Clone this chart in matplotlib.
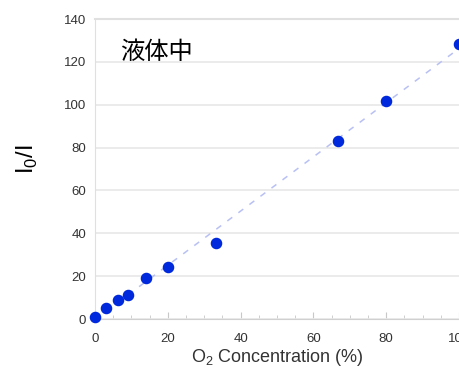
import numpy as np
import matplotlib
matplotlib.use("Agg")
import matplotlib.pyplot as plt
from matplotlib.ticker import MultipleLocator

plt.rcParams['font.family'] = ['Liberation Sans', 'Noto Sans CJK JP', 'DejaVu Sans']
plt.rcParams['mathtext.fontset'] = 'custom'
plt.rcParams['mathtext.rm'] = 'Liberation Sans'

o2_conc = [0, 3, 6.2, 9, 14, 20, 33.3, 66.7, 80, 100]
i0_over_i = [1, 5, 8.7, 11, 19.3, 24.3, 35.5, 83, 101.7, 128.3]
x_ticks = [0, 20, 40, 60, 80, 100]
y_ticks = [0, 20, 40, 60, 80, 100, 120, 140]

fig = plt.figure(figsize=(4.6, 3.68), dpi=100)
ax = fig.add_axes([95/460, 49/368, 364/460, 300/368])

# linear fit line
coef = np.polyfit(o2_conc, i0_over_i, 1)
fx = np.array([0, 100])
ax.plot(fx, np.polyval(coef, fx), linestyle=(0, (4, 5)), color='#b8c0f4', lw=1.1, zorder=2)

ax.plot(o2_conc, i0_over_i, 'o', color='#0028dc', markersize=7.3, zorder=3, clip_on=False)

ax.set_xlim(0, 100)
ax.set_ylim(0, 140)
ax.set_xticks(x_ticks)
ax.set_yticks(y_ticks)
ax.xaxis.set_minor_locator(MultipleLocator(5))
ax.yaxis.grid(True, color='#e8e8e8', lw=1.2)
ax.set_axisbelow(True)
ax.tick_params(axis='x', which='both', direction='in', colors='#c8c8c8', labelcolor='#333333', labelsize=9.5, pad=10)
ax.tick_params(axis='x', which='major', length=5)
ax.tick_params(axis='x', which='minor', length=3)
ax.tick_params(axis='y', length=0, labelcolor='#333333', labelsize=9.5, pad=6.5)

for s in ['right']:
    ax.spines[s].set_visible(False)
ax.spines['top'].set_color('#e0e0e0')
ax.spines['top'].set_linewidth(1.5)
ax.spines['left'].set_color('#e0e0e0')
ax.spines['bottom'].set_color('#d0d0d0')

ax.set_xlabel('O$_2$ Concentration (%)', fontsize=13, color='#333333', labelpad=1.5)
fig.text(27/460, 1 - 159/368, r'I$_0$/I', rotation=90, fontsize=17, ha='center', va='center', color='black')
ax.text(0.068, 0.89, '液体中', transform=ax.transAxes, fontsize=17.5, family=['Noto Sans CJK JP'], color='black', va='center')

fig.savefig('out.png', dpi=100)
